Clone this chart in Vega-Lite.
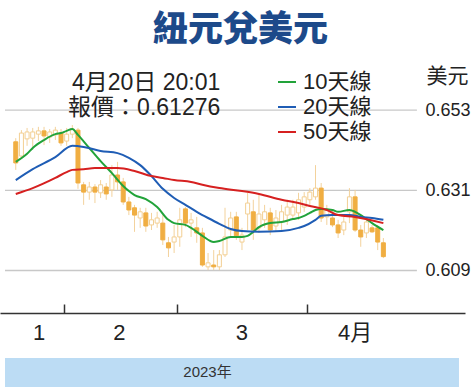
{
  "$schema": "https://vega.github.io/schema/vega-lite/v6.json",
  "width": 465,
  "height": 244,
  "autosize": "none",
  "padding": {"left": 0, "top": 69, "right": 9, "bottom": 77},
  "background": "white",
  "config": {"view": {"stroke": null}, "font": "Liberation Sans Narrow, Liberation Sans, Noto Sans CJK TC, sans-serif"},
  "title": {"text": "紐元兌美元", "fontSize": 35, "font": "Noto Sans CJK TC", "fontWeight": 900, "color": "#1d4a8a", "anchor": "middle", "frame": "group", "offset": 17, "dx": 8},
  "datasets": {
    "grid": [{"v": 0.609}, {"v": 0.631}, {"v": 0.653}],
    "candles": [
      {"i":0,"o":0.6443,"h":0.6453,"l":0.6366,"c":0.6385},
      {"i":1,"o":0.6404,"h":0.6475,"l":0.6396,"c":0.6467},
      {"i":2,"o":0.6451,"h":0.6481,"l":0.6432,"c":0.6470},
      {"i":3,"o":0.6453,"h":0.6481,"l":0.6421,"c":0.6470},
      {"i":4,"o":0.6464,"h":0.6484,"l":0.6445,"c":0.6473},
      {"i":5,"o":0.6473,"h":0.6484,"l":0.6434,"c":0.6459},
      {"i":6,"o":0.6456,"h":0.6478,"l":0.6440,"c":0.6470},
      {"i":7,"o":0.6462,"h":0.6484,"l":0.6448,"c":0.6475},
      {"i":8,"o":0.6467,"h":0.6478,"l":0.6432,"c":0.6440},
      {"i":9,"o":0.6445,"h":0.6481,"l":0.6432,"c":0.6464},
      {"i":10,"o":0.6464,"h":0.6489,"l":0.6453,"c":0.6478},
      {"i":11,"o":0.6475,"h":0.6481,"l":0.6314,"c":0.6330},
      {"i":12,"o":0.6325,"h":0.6333,"l":0.6270,"c":0.6305},
      {"i":13,"o":0.6305,"h":0.6333,"l":0.6284,"c":0.6319},
      {"i":14,"o":0.6319,"h":0.6327,"l":0.6275,"c":0.6305},
      {"i":15,"o":0.6303,"h":0.6338,"l":0.6289,"c":0.6325},
      {"i":16,"o":0.6319,"h":0.6330,"l":0.6284,"c":0.6300},
      {"i":17,"o":0.6311,"h":0.6379,"l":0.6292,"c":0.6352},
      {"i":18,"o":0.6352,"h":0.6388,"l":0.6311,"c":0.6333},
      {"i":19,"o":0.6333,"h":0.6344,"l":0.6270,"c":0.6278},
      {"i":20,"o":0.6278,"h":0.6292,"l":0.6242,"c":0.6256},
      {"i":21,"o":0.6262,"h":0.6270,"l":0.6196,"c":0.6242},
      {"i":22,"o":0.6234,"h":0.6262,"l":0.6207,"c":0.6251},
      {"i":23,"o":0.6248,"h":0.6262,"l":0.6196,"c":0.6212},
      {"i":24,"o":0.6215,"h":0.6248,"l":0.6201,"c":0.6229},
      {"i":25,"o":0.6220,"h":0.6251,"l":0.6207,"c":0.6234},
      {"i":26,"o":0.6220,"h":0.6242,"l":0.6160,"c":0.6174},
      {"i":27,"o":0.6166,"h":0.6182,"l":0.6127,"c":0.6152},
      {"i":28,"o":0.6168,"h":0.6215,"l":0.6138,"c":0.6182},
      {"i":29,"o":0.6182,"h":0.6262,"l":0.6155,"c":0.6229},
      {"i":30,"o":0.6259,"h":0.6264,"l":0.6209,"c":0.6220},
      {"i":31,"o":0.6220,"h":0.6248,"l":0.6182,"c":0.6229},
      {"i":32,"o":0.6207,"h":0.6237,"l":0.6166,"c":0.6193},
      {"i":33,"o":0.6193,"h":0.6207,"l":0.6100,"c":0.6105},
      {"i":34,"o":0.6100,"h":0.6138,"l":0.6091,"c":0.6111},
      {"i":35,"o":0.6105,"h":0.6146,"l":0.6091,"c":0.6100},
      {"i":36,"o":0.6100,"h":0.6146,"l":0.6091,"c":0.6133},
      {"i":37,"o":0.6133,"h":0.6262,"l":0.6127,"c":0.6182},
      {"i":38,"o":0.6201,"h":0.6251,"l":0.6182,"c":0.6234},
      {"i":39,"o":0.6237,"h":0.6251,"l":0.6174,"c":0.6185},
      {"i":40,"o":0.6168,"h":0.6207,"l":0.6146,"c":0.6187},
      {"i":41,"o":0.6245,"h":0.6303,"l":0.6201,"c":0.6275},
      {"i":42,"o":0.6251,"h":0.6284,"l":0.6174,"c":0.6201},
      {"i":43,"o":0.6207,"h":0.6297,"l":0.6193,"c":0.6245},
      {"i":44,"o":0.6229,"h":0.6270,"l":0.6207,"c":0.6251},
      {"i":45,"o":0.6248,"h":0.6262,"l":0.6187,"c":0.6201},
      {"i":46,"o":0.6212,"h":0.6256,"l":0.6196,"c":0.6234},
      {"i":47,"o":0.6223,"h":0.6270,"l":0.6201,"c":0.6251},
      {"i":48,"o":0.6242,"h":0.6284,"l":0.6215,"c":0.6264},
      {"i":49,"o":0.6242,"h":0.6284,"l":0.6229,"c":0.6264},
      {"i":50,"o":0.6248,"h":0.6303,"l":0.6229,"c":0.6284},
      {"i":51,"o":0.6264,"h":0.6305,"l":0.6251,"c":0.6292},
      {"i":52,"o":0.6284,"h":0.6316,"l":0.6270,"c":0.6305},
      {"i":53,"o":0.6292,"h":0.6379,"l":0.6284,"c":0.6316},
      {"i":54,"o":0.6316,"h":0.6330,"l":0.6223,"c":0.6234},
      {"i":55,"o":0.6237,"h":0.6270,"l":0.6215,"c":0.6256},
      {"i":56,"o":0.6234,"h":0.6256,"l":0.6209,"c":0.6215},
      {"i":57,"o":0.6215,"h":0.6229,"l":0.6179,"c":0.6193},
      {"i":58,"o":0.6201,"h":0.6237,"l":0.6187,"c":0.6223},
      {"i":59,"o":0.6251,"h":0.6316,"l":0.6220,"c":0.6292},
      {"i":60,"o":0.6292,"h":0.6311,"l":0.6196,"c":0.6201},
      {"i":61,"o":0.6201,"h":0.6215,"l":0.6155,"c":0.6182},
      {"i":62,"o":0.6193,"h":0.6237,"l":0.6179,"c":0.6223},
      {"i":63,"o":0.6207,"h":0.6215,"l":0.6193,"c":0.6196},
      {"i":64,"o":0.6207,"h":0.6215,"l":0.6146,"c":0.6168},
      {"i":65,"o":0.6166,"h":0.6179,"l":0.6124,"c":0.6128}
    ],
    "ma": [
      {"s":"10天線","i":0,"v":0.6388},{"s":"10天線","i":2,"v":0.6410},{"s":"10天線","i":3,"v":0.6426},{"s":"10天線","i":5,"v":0.6448},{"s":"10天線","i":7,"v":0.6464},{"s":"10天線","i":8,"v":0.6467},{"s":"10天線","i":9,"v":0.6473},{"s":"10天線","i":10,"v":0.6478},{"s":"10天線","i":11,"v":0.6462},{"s":"10天線","i":13,"v":0.6426},{"s":"10天線","i":15,"v":0.6390},{"s":"10天線","i":17,"v":0.6357},{"s":"10天線","i":19,"v":0.6322},{"s":"10天線","i":20,"v":0.6308},{"s":"10天線","i":21,"v":0.6297},{"s":"10天線","i":23,"v":0.6286},{"s":"10天線","i":25,"v":0.6264},{"s":"10天線","i":27,"v":0.6229},{"s":"10天線","i":28,"v":0.6220},{"s":"10天線","i":30,"v":0.6215},{"s":"10天線","i":31,"v":0.6207},{"s":"10天線","i":33,"v":0.6185},{"s":"10天線","i":35,"v":0.6168},{"s":"10天線","i":36,"v":0.6171},{"s":"10天線","i":38,"v":0.6182},{"s":"10天線","i":40,"v":0.6182},{"s":"10天線","i":41,"v":0.6185},{"s":"10天線","i":42,"v":0.6196},{"s":"10天線","i":43,"v":0.6209},{"s":"10天線","i":45,"v":0.6220},{"s":"10天線","i":47,"v":0.6223},{"s":"10天線","i":49,"v":0.6231},{"s":"10天線","i":50,"v":0.6234},{"s":"10天線","i":51,"v":0.6240},{"s":"10天線","i":52,"v":0.6248},{"s":"10天線","i":53,"v":0.6256},{"s":"10天線","i":54,"v":0.6259},{"s":"10天線","i":56,"v":0.6256},{"s":"10天線","i":57,"v":0.6251},{"s":"10天線","i":59,"v":0.6256},{"s":"10天線","i":60,"v":0.6251},{"s":"10天線","i":61,"v":0.6242},{"s":"10天線","i":62,"v":0.6231},{"s":"10天線","i":63,"v":0.6220},{"s":"10天線","i":65,"v":0.6201},
      {"s":"20天線","i":0,"v":0.6338},{"s":"20天線","i":3,"v":0.6368},{"s":"20天線","i":7,"v":0.6401},{"s":"20天線","i":10,"v":0.6432},{"s":"20天線","i":12,"v":0.6429},{"s":"20天線","i":15,"v":0.6418},{"s":"20天線","i":18,"v":0.6412},{"s":"20天線","i":20,"v":0.6399},{"s":"20天線","i":22,"v":0.6379},{"s":"20天線","i":24,"v":0.6349},{"s":"20天線","i":26,"v":0.6314},{"s":"20天線","i":28,"v":0.6289},{"s":"20天線","i":30,"v":0.6270},{"s":"20天線","i":32,"v":0.6251},{"s":"20天線","i":34,"v":0.6234},{"s":"20天線","i":36,"v":0.6218},{"s":"20天線","i":38,"v":0.6204},{"s":"20天線","i":40,"v":0.6198},{"s":"20天線","i":43,"v":0.6196},{"s":"20天線","i":47,"v":0.6198},{"s":"20天線","i":50,"v":0.6207},{"s":"20天線","i":51,"v":0.6212},{"s":"20天線","i":53,"v":0.6229},{"s":"20天線","i":54,"v":0.6240},{"s":"20天線","i":56,"v":0.6242},{"s":"20天線","i":59,"v":0.6242},{"s":"20天線","i":61,"v":0.6237},{"s":"20天線","i":63,"v":0.6234},{"s":"20天線","i":65,"v":0.6229},
      {"s":"50天線","i":0,"v":0.6300},{"s":"50天線","i":3,"v":0.6316},{"s":"50天線","i":7,"v":0.6344},{"s":"50天線","i":9,"v":0.6360},{"s":"50天線","i":10,"v":0.6366},{"s":"50天線","i":12,"v":0.6368},{"s":"50天線","i":14,"v":0.6371},{"s":"50天線","i":18,"v":0.6371},{"s":"50天線","i":21,"v":0.6363},{"s":"50天線","i":24,"v":0.6349},{"s":"50天線","i":26,"v":0.6344},{"s":"50天線","i":28,"v":0.6338},{"s":"50天線","i":31,"v":0.6333},{"s":"50天線","i":33,"v":0.6325},{"s":"50天線","i":36,"v":0.6316},{"s":"50天線","i":40,"v":0.6308},{"s":"50天線","i":43,"v":0.6300},{"s":"50天線","i":47,"v":0.6284},{"s":"50天線","i":50,"v":0.6275},{"s":"50天線","i":52,"v":0.6267},{"s":"50天線","i":55,"v":0.6256},{"s":"50天線","i":57,"v":0.6242},{"s":"50天線","i":60,"v":0.6237},{"s":"50天線","i":65,"v":0.6220}
    ],
    "months": [{"m":"1","i":4.15},{"m":"2","i":18.3},{"m":"3","i":40},{"m":"4月","i":60}],
    "note": [{"t":"4月20日 20:01\n報價：0.61276"}],
    "band": [{"t":"2023年"}]
  },
  "layer": [
    {
      "data": {"name": "band"},
      "mark": {"type": "rect", "color": "#bcdcf4"},
      "encoding": {
        "x": {"datum": -1.903, "type": "quantitative", "scale": {"domain": [-1.903, 78.55], "nice": false, "zero": false}},
        "x2": {"datum": 78.37},
        "y": {"datum": 0.585, "type": "quantitative", "scale": {"domain": [0.59734, 0.66427], "nice": false, "zero": false}},
        "y2": {"datum": 0.57705}
      }
    },
    {
      "data": {"name": "band"},
      "mark": {"type": "text", "fontSize": 15, "color": "#333333", "baseline": "middle", "align": "center"},
      "encoding": {
        "text": {"field": "t"},
        "x": {"datum": 33.9, "type": "quantitative", "scale": {"domain": [-1.903, 78.55], "nice": false, "zero": false}},
        "y": {"datum": 0.58116, "type": "quantitative", "scale": {"domain": [0.59734, 0.66427], "nice": false, "zero": false}}
      }
    },
    {
      "data": {"name": "grid"},
      "mark": {"type": "rule", "color": "#c8c8c8", "strokeWidth": 1.3},
      "encoding": {
        "y": {"field": "v", "type": "quantitative", "scale": {"domain": [0.59734, 0.66427], "nice": false, "zero": false},
          "axis": {"orient": "right", "offset": -44, "values": [0.609, 0.631, 0.653], "format": ".3f", "grid": false, "domain": false, "ticks": false, "labelPadding": 4, "labelFontSize": 18, "labelColor": "#222222", "title": "美元", "titleAngle": 0, "titleAlign": "left", "titleBaseline": "middle", "titleX": 5, "titleY": 7, "titleFontSize": 21, "titleFontWeight": "normal", "titleFont": "Noto Sans CJK TC", "titleColor": "#222222"}},
        "x": {"datum": -1.903, "type": "quantitative", "scale": {"domain": [-1.903, 78.55], "nice": false, "zero": false}},
        "x2": {"datum": 70.93}
      }
    },
    {
      "data": {"name": "candles"},
      "mark": {"type": "rule", "color": "#f3d29c", "strokeWidth": 1},
      "encoding": {
        "x": {"field": "i", "type": "quantitative", "scale": {"domain": [-1.903, 78.55], "nice": false, "zero": false}},
        "y": {"field": "l", "type": "quantitative", "scale": {"domain": [0.59734, 0.66427], "nice": false, "zero": false}},
        "y2": {"field": "h"}
      }
    },
    {
      "data": {"name": "candles"},
      "mark": {"type": "bar", "size": 4, "strokeWidth": 1},
      "encoding": {
        "x": {"field": "i", "type": "quantitative", "scale": {"domain": [-1.903, 78.55], "nice": false, "zero": false},
          "axis": {"values": [8.5, 28.5, 51.5], "labels": false, "tickSize": -9, "tickWidth": 1.5, "tickColor": "#333333", "domainColor": "#333333", "domainWidth": 1.5, "grid": false, "title": null}},
        "y": {"field": "o", "type": "quantitative", "scale": {"domain": [0.59734, 0.66427], "nice": false, "zero": false}},
        "y2": {"field": "c"},
        "fill": {"condition": {"test": "datum.c < datum.o", "value": "#f0ae42"}, "value": "#ffffff"},
        "stroke": {"condition": {"test": "datum.c < datum.o", "value": "#f0ae42"}, "value": "#f3cf92"}
      }
    },
    {
      "data": {"name": "ma"},
      "mark": {"type": "line", "strokeWidth": 2, "interpolate": "monotone"},
      "encoding": {
        "x": {"field": "i", "type": "quantitative", "scale": {"domain": [-1.903, 78.55], "nice": false, "zero": false}},
        "y": {"field": "v", "type": "quantitative", "scale": {"domain": [0.59734, 0.66427], "nice": false, "zero": false}},
        "color": {"field": "s", "type": "nominal", "scale": {"domain": ["10天線", "20天線", "50天線"], "range": ["#22a33a", "#1f5db5", "#d62020"]},
          "legend": {"orient": "none", "legendX": 276, "legendY": 2, "title": null, "symbolType": "stroke", "symbolSize": 324, "symbolStrokeWidth": 2, "labelFontSize": 22, "labelColor": "#222222", "labelOffset": 5, "rowPadding": 3, "padding": 0}}
      }
    },
    {
      "data": {"name": "note"},
      "mark": {"type": "text", "fontSize": 23, "lineBreak": "\n", "lineHeight": 25.5, "align": "right", "baseline": "alphabetic", "color": "#222222"},
      "encoding": {
        "text": {"field": "t"},
        "x": {"datum": 36.16, "type": "quantitative", "scale": {"domain": [-1.903, 78.55], "nice": false, "zero": false}},
        "y": {"datum": 0.65851, "type": "quantitative", "scale": {"domain": [0.59734, 0.66427], "nice": false, "zero": false}}
      }
    },
    {
      "data": {"name": "months"},
      "mark": {"type": "text", "fontSize": 22, "align": "center", "baseline": "middle", "color": "#222222"},
      "encoding": {
        "text": {"field": "m"},
        "x": {"field": "i", "type": "quantitative", "scale": {"domain": [-1.903, 78.55], "nice": false, "zero": false}},
        "y": {"datum": 0.59186, "type": "quantitative", "scale": {"domain": [0.59734, 0.66427], "nice": false, "zero": false}}
      }
    }
  ]
}
